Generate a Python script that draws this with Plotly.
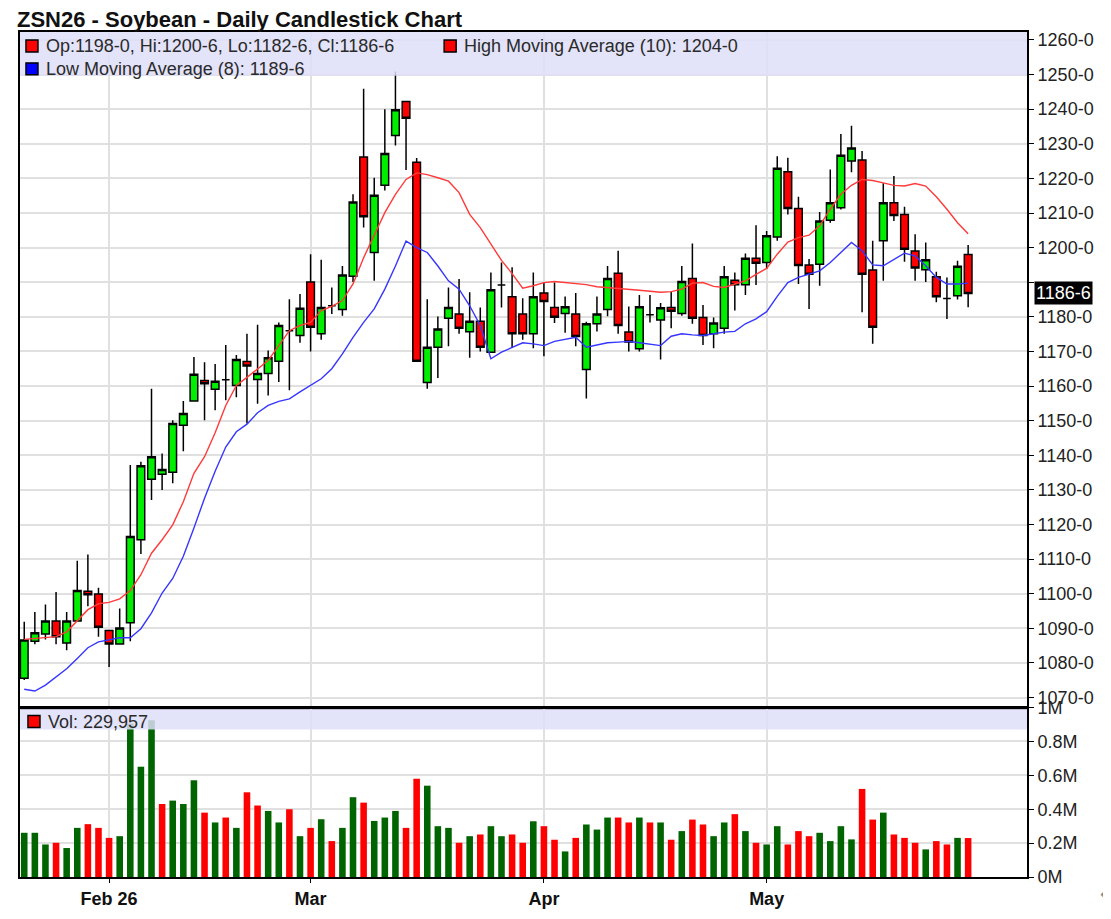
import plotly.graph_objects as go
from plotly.subplots import make_subplots

# trading days shown (Jan 21 - May 29, 2026)
jan_days = [21, 22, 23, 26, 27, 28, 29, 30]
feb_days = [2, 3, 4, 5, 6, 9, 10, 11, 12, 13, 17, 18, 19, 20, 23, 24, 25, 26, 27]
mar_days = [2, 3, 4, 5, 6, 9, 10, 11, 12, 13, 16, 17, 18, 19, 20, 23, 24, 25, 26, 27, 30, 31]
apr_days = [1, 2, 6, 7, 8, 9, 10, 13, 14, 15, 16, 17, 20, 21, 22, 23, 24, 27, 28, 29, 30]
may_days = [1, 4, 5, 6, 7, 8, 11, 12, 13, 14, 15, 18, 19, 20, 21, 22, 26, 27, 28, 29]

opens = [
    1075.6, 1086.3, 1088.4, 1092.1, 1085.8, 1092.1, 1100.7, 1099.9,
    1089.4, 1085.5, 1091.6, 1115.6, 1133.1, 1134.5, 1135.1, 1148.7, 1155.7, 1161.6,
    1159.1, 1161.8, 1160.2, 1167.1, 1161.9, 1163.6, 1167.2, 1176.0, 1174.6,
    1190.1, 1175.1, 1183.2, 1182.1, 1191.7, 1226.2, 1198.6, 1218.0, 1232.4, 1242.2, 1224.7,
    1161.0, 1171.2, 1179.6, 1180.8, 1175.7, 1178.7, 1169.8, 1189.2, 1185.8, 1180.8, 1175.1,
    1186.9, 1182.7, 1181.0, 1180.8, 1164.8, 1178.0, 1182.1, 1192.6, 1175.6, 1170.8, 1180.6,
    1179.1, 1182.7, 1181.0, 1191.1, 1179.8, 1175.1, 1176.7, 1190.6, 1189.3, 1196.9,
    1195.7, 1203.1, 1221.9, 1211.3, 1195.0, 1195.2, 1207.9, 1211.5, 1225.0, 1225.3,
    1193.5, 1202.0, 1213.0, 1209.6, 1199.0, 1193.6, 1191.6, 1185.3, 1186.1, 1198.0,
]
highs = [
    1091.9, 1094.7, 1096.9, 1100.5, 1094.7, 1109.5, 1111.3, 1101.7,
    1089.4, 1095.7, 1137.2, 1138.1, 1159.2, 1140.5, 1150.1, 1155.7, 1168.4, 1166.9,
    1166.4, 1171.9, 1169.0, 1175.1, 1177.7, 1170.3, 1178.4, 1185.1, 1186.6,
    1198.1, 1196.5, 1188.5, 1194.7, 1215.4, 1245.9, 1220.2, 1240.0, 1250.9, 1242.2, 1225.9,
    1185.1, 1180.1, 1188.5, 1190.9, 1187.1, 1182.7, 1192.8, 1195.7, 1194.3, 1185.4, 1192.8,
    1189.9, 1189.9, 1185.9, 1186.9, 1178.6, 1185.9, 1194.7, 1199.1, 1183.0, 1186.3, 1186.3,
    1184.0, 1187.3, 1194.7, 1201.2, 1183.4, 1179.8, 1194.7, 1192.8, 1198.3, 1206.5,
    1204.8, 1226.4, 1226.0, 1214.7, 1196.7, 1210.3, 1222.6, 1232.8, 1235.2, 1227.9,
    1202.0, 1218.6, 1220.7, 1211.8, 1203.9, 1201.5, 1193.0, 1191.4, 1196.2, 1200.75,
]
lows = [
    1075.1, 1085.4, 1086.8, 1085.4, 1083.7, 1092.1, 1096.4, 1087.6,
    1078.8, 1085.5, 1086.3, 1111.5, 1127.1, 1130.0, 1131.9, 1141.2, 1155.7, 1150.1,
    1153.0, 1155.9, 1156.8, 1149.2, 1154.9, 1157.3, 1161.2, 1158.8, 1172.5,
    1170.0, 1173.4, 1180.8, 1180.3, 1190.1, 1205.8, 1190.4, 1216.5, 1229.5, 1222.4, 1167.2,
    1159.2, 1162.3, 1171.5, 1175.1, 1168.2, 1170.0, 1169.8, 1182.7, 1171.2, 1173.4, 1170.9,
    1168.6, 1178.2, 1175.4, 1171.5, 1156.4, 1175.8, 1180.2, 1175.1, 1170.0, 1170.0, 1178.4,
    1167.7, 1176.7, 1180.3, 1178.0, 1171.9, 1170.9, 1175.1, 1181.8, 1186.3, 1189.2,
    1193.8, 1202.0, 1209.6, 1189.5, 1182.3, 1189.0, 1207.2, 1211.0, 1221.8, 1181.3,
    1172.2, 1190.4, 1207.7, 1195.9, 1190.4, 1190.1, 1184.2, 1179.4, 1185.0, 1182.75,
]
closes = [
    1086.6, 1088.7, 1092.1, 1087.6, 1092.1, 1100.9, 1099.7, 1090.3,
    1085.5, 1090.1, 1116.5, 1137.0, 1139.6, 1135.9, 1149.2, 1152.1, 1163.4, 1160.7,
    1161.4, 1161.8, 1167.7, 1165.8, 1163.6, 1168.2, 1177.5, 1176.0, 1182.5,
    1177.0, 1182.7, 1183.2, 1192.1, 1213.2, 1208.9, 1215.1, 1227.2, 1239.8, 1237.4, 1167.2,
    1171.2, 1176.5, 1182.7, 1176.7, 1178.7, 1171.2, 1187.8, 1189.2, 1175.1, 1175.1, 1185.8,
    1184.4, 1179.9, 1182.9, 1174.3, 1178.0, 1180.8, 1191.1, 1177.5, 1172.7, 1182.9, 1180.6,
    1182.6, 1181.6, 1190.2, 1179.6, 1174.6, 1178.2, 1191.6, 1189.3, 1196.9, 1195.5,
    1203.4, 1222.9, 1211.3, 1194.8, 1192.3, 1207.7, 1213.0, 1226.7, 1228.8, 1192.3,
    1177.0, 1213.0, 1209.3, 1199.5, 1194.1, 1196.5, 1185.8, 1185.3, 1194.6, 1186.75,
]
high_ma10 = [
    1086.8, 1087.0, 1087.3, 1087.6, 1089.0, 1092.1, 1095.4, 1097.1,
    1097.5, 1098.5, 1100.9, 1105.5, 1111.7, 1115.6, 1119.9, 1126.6, 1134.8, 1139.6,
    1146.5, 1154.4, 1160.2, 1162.5, 1165.0, 1167.4, 1171.7, 1176.0, 1177.5,
    1178.4, 1181.8, 1183.0, 1184.7, 1189.5, 1197.1, 1203.4, 1210.1, 1215.4, 1219.7, 1221.6,
    1221.1, 1220.2, 1219.2, 1215.9, 1209.6, 1205.8, 1201.0, 1196.3, 1192.5, 1188.3, 1189.0,
    1189.9, 1190.2, 1189.9, 1189.7, 1189.3, 1188.7, 1188.5, 1188.3, 1188.0, 1187.7, 1187.4,
    1187.1, 1187.3, 1188.0, 1189.7, 1189.9, 1188.8, 1188.5, 1189.5, 1190.4, 1192.3,
    1194.0, 1198.1, 1201.6, 1202.9, 1203.6, 1206.3, 1211.1, 1215.4, 1218.0, 1219.7,
    1219.4, 1218.7, 1218.0, 1217.8, 1218.5, 1217.8, 1214.7, 1211.1, 1207.2, 1204.0,
]
low_ma8 = [
    1072.4, 1071.9, 1073.6, 1076.0, 1078.3, 1081.3, 1084.4, 1086.1,
    1086.8, 1087.3, 1087.3, 1089.9, 1094.5, 1100.2, 1104.4, 1110.8, 1119.0, 1127.6,
    1135.4, 1142.4, 1146.8, 1149.0, 1152.3, 1154.4, 1155.6, 1156.3, 1158.3,
    1160.2, 1162.1, 1165.0, 1169.3, 1174.1, 1178.4, 1182.3, 1188.0, 1194.7, 1201.9, 1200.0,
    1198.6, 1194.7, 1190.4, 1188.0, 1183.2, 1177.5, 1167.9, 1169.8, 1171.2, 1172.5, 1172.2,
    1171.7, 1172.9, 1173.4, 1174.1, 1171.2, 1171.9, 1172.5, 1172.7, 1172.9, 1172.5, 1172.2,
    1171.7, 1174.4, 1175.1, 1174.8, 1174.6, 1175.1, 1175.6, 1175.8, 1178.0, 1179.4,
    1181.5, 1185.9, 1189.9, 1191.4, 1192.3, 1193.3, 1195.7, 1198.6, 1201.5, 1199.1,
    1195.0, 1194.75, 1196.7, 1198.4, 1197.6, 1194.75, 1191.4, 1189.5, 1189.5, 1189.75,
]
# volume in millions of contracts, and whether close was up (1) or down (0)
volume_m = [
    0.261, 0.261, 0.192, 0.202, 0.171, 0.290, 0.312, 0.290,
    0.231, 0.241, 0.906, 0.651, 0.925, 0.431, 0.451, 0.431, 0.571, 0.380,
    0.322, 0.351, 0.290, 0.500, 0.422, 0.390, 0.322, 0.400, 0.241,
    0.290, 0.341, 0.212, 0.290, 0.471, 0.439, 0.331, 0.351, 0.390, 0.290, 0.580,
    0.539, 0.300, 0.290, 0.202, 0.241, 0.251, 0.300, 0.241, 0.251, 0.202, 0.329,
    0.300, 0.220, 0.151, 0.231, 0.310, 0.280, 0.351, 0.351, 0.322, 0.351, 0.322,
    0.322, 0.220, 0.271, 0.339, 0.310, 0.241, 0.322, 0.371, 0.271, 0.202,
    0.192, 0.300, 0.192, 0.271, 0.241, 0.261, 0.212, 0.300, 0.222, 0.520,
    0.339, 0.380, 0.251, 0.231, 0.202, 0.163, 0.212, 0.192, 0.231, 0.230,
]
vol_up = [
    1, 1, 1, 0, 1, 1, 0, 0,
    0, 1, 1, 1, 1, 0, 1, 1, 1, 0, 1, 0, 1, 0, 0, 1, 1, 0, 1,
    0, 1, 0, 1, 1, 0, 1, 1, 1, 0, 0, 1, 1, 1, 0, 1, 0, 1, 1, 0, 0, 1,
    0, 0, 1, 0, 1, 1, 1, 0, 0, 1, 0, 1, 0, 1, 0, 0, 1, 1, 0, 1, 0,
    1, 1, 0, 0, 0, 1, 1, 1, 1, 0, 0, 1, 0, 0, 0, 1, 0, 0, 1, 0,
]

month_ticks = ['2026-02-02', '2026-03-02', '2026-04-01', '2026-05-01']
month_labels = ['Feb 26', 'Mar', 'Apr', 'May']
price_ticks = list(range(1070, 1261, 10))
# the 1190 label sits under the last-price box, so it is left blank
price_labels = ['' if p == 1190 else f'{p}-0' for p in price_ticks]
vol_ticks = [0, 200000, 400000, 600000, 800000, 1000000]
vol_labels = ['0M', '0.2M', '0.4M', '0.6M', '0.8M', '1M']

last_ohlc = 'Op:1198-0, Hi:1200-6, Lo:1182-6, Cl:1186-6'
last_high_ma = 'High Moving Average (10): 1204-0'
last_low_ma = 'Low Moving Average (8): 1189-6'
last_vol = 'Vol: 229,957'
last_close_label = '1186-6'

dates = ([f'2026-01-{d:02d}' for d in jan_days] + [f'2026-02-{d:02d}' for d in feb_days]
         + [f'2026-03-{d:02d}' for d in mar_days] + [f'2026-04-{d:02d}' for d in apr_days]
         + [f'2026-05-{d:02d}' for d in may_days])
volume = [v * 1e6 for v in volume_m]

FONT = 'Liberation Sans, Arial, sans-serif'
OFF = 8  # page body margin
W, H = 1111 - OFF, 919 - OFF
L, R, T, B = 18 - OFF, 84, 32 - OFF, 39
PW, PH = W - L - R, H - T - B
vol_h = 170

fig = make_subplots(rows=2, cols=1, shared_xaxes=True, vertical_spacing=0,
                    row_heights=[(PH - vol_h) / PH, vol_h / PH])

fig.add_trace(go.Candlestick(
    x=dates, open=opens, high=highs, low=lows, close=closes, name='OHLC',
    increasing=dict(fillcolor='#00ee00', line=dict(color='black', width=1.5)),
    decreasing=dict(fillcolor='#ff0000', line=dict(color='black', width=1.5)),
    whiskerwidth=0), row=1, col=1)
fig.add_trace(go.Scatter(x=dates, y=high_ma10, mode='lines', name='High MA',
                         line=dict(color='#ff3a3a', width=1.4)), row=1, col=1)
fig.add_trace(go.Scatter(x=dates, y=low_ma8, mode='lines', name='Low MA',
                         line=dict(color='#3636ff', width=1.4)), row=1, col=1)
fig.add_trace(go.Bar(x=dates, y=volume, width=0.62,
                     marker=dict(color=['#006400' if u else '#ff0000' for u in vol_up], line_width=0)),
              row=2, col=1)

xcommon = dict(type='category', range=[-0.4, 94.55], tickvals=month_ticks, ticktext=month_labels,
               showgrid=True, gridcolor='#e0e0e0', gridwidth=2, showline=True, linecolor='black',
               linewidth=2, mirror=True, zeroline=False)
fig.update_xaxes(**xcommon)
fig.update_xaxes(showticklabels=False, ticks='', rangeslider_visible=False, row=1, col=1)
fig.update_xaxes(ticks='outside', ticklen=4, tickcolor='black',
                 tickfont=dict(family=FONT, size=18, color='#111', weight='bold'), row=2, col=1)

ycommon = dict(side='right', showgrid=True, gridcolor='#e0e0e0', gridwidth=2, ticks='outside',
               ticklen=5, tickcolor='black', showline=True, linecolor='black', linewidth=2,
               mirror=True, zeroline=False, tickfont=dict(family=FONT, size=18, color='#222'))
fig.update_yaxes(**ycommon)
fig.update_yaxes(range=[1067.1, 1262.3], tickvals=price_ticks, ticktext=price_labels, row=1, col=1)
fig.update_yaxes(range=[0, 1000000], tickvals=vol_ticks, ticktext=vol_labels, row=2, col=1)


def px_x(px):
    # screen pixel -> paper fraction
    return (px - OFF - L) / PW


def px_y(py):
    return (OFF + T + PH - py) / PH


band = 'rgba(222,222,248,0.85)'
shapes = [
    dict(type='rect', xref='x domain', yref='y domain', x0=0, x1=1, y0=1 - 44 / (PH - vol_h), y1=1,
         fillcolor=band, line_width=0, layer='above'),
    dict(type='rect', xref='x2 domain', yref='y2 domain', x0=0, x1=1, y0=1 - 22 / vol_h, y1=1,
         fillcolor=band, line_width=0, layer='above'),
    dict(type='line', xref='x2 domain', yref='y2 domain', x0=0, x1=1, y0=1, y1=1,
         line=dict(color='black', width=3), layer='above'),
]
squares = [(24, 40, '#ff0000'), (443, 40, '#ff0000'), (24, 63, '#0000ff'), (26, 718, '#ff0000')]
for sx, sy, col in squares:
    shapes.append(dict(type='rect', xref='paper', yref='paper', x0=px_x(sx), x1=px_x(sx + 12),
                       y0=px_y(sy + 12), y1=px_y(sy), fillcolor=col,
                       line=dict(color='black', width=1.5), layer='above'))

legend_texts = [(42, 46, last_ohlc), (461, 46, last_high_ma), (42, 69, last_low_ma), (44, 724, last_vol)]
annotations = []
for tx, ty, txt in legend_texts:
    annotations.append(dict(text=txt, xref='paper', yref='paper', x=px_x(tx), y=px_y(ty),
                            xanchor='left', yanchor='middle', showarrow=False,
                            font=dict(family=FONT, size=18, color='#2a2a2a')))
annotations.append(dict(text=last_close_label, xref='paper', yref='y', x=1, y=closes[-1],
                        xanchor='left', yanchor='middle', xshift=7, showarrow=False,
                        bgcolor='black', borderpad=1,
                        font=dict(family=FONT, size=18, color='white')))
annotations.append(dict(text='←', xref='paper', yref='paper', x=px_x(1098), y=px_y(897),
                        xanchor='left', yanchor='middle', showarrow=False,
                        font=dict(family='DejaVu Sans', size=17, color='#8a8a8a')))

fig.update_layout(
    width=W, height=H,
    margin=dict(l=L, r=R, t=T, b=B),
    paper_bgcolor='white', plot_bgcolor='white',
    showlegend=False,
    boxgap=0.15, boxgroupgap=0.15,
    title=dict(text='ZSN26 - Soybean - Daily Candlestick Chart', x=(17 - OFF) / W, xanchor='left',
               y=1 - (19 - OFF) / H, yanchor='middle',
               font=dict(family=FONT, size=22, color='#111', weight='bold')),
    shapes=shapes,
    annotations=annotations,
    font=dict(family=FONT),
)

fig.write_html('out.html')
